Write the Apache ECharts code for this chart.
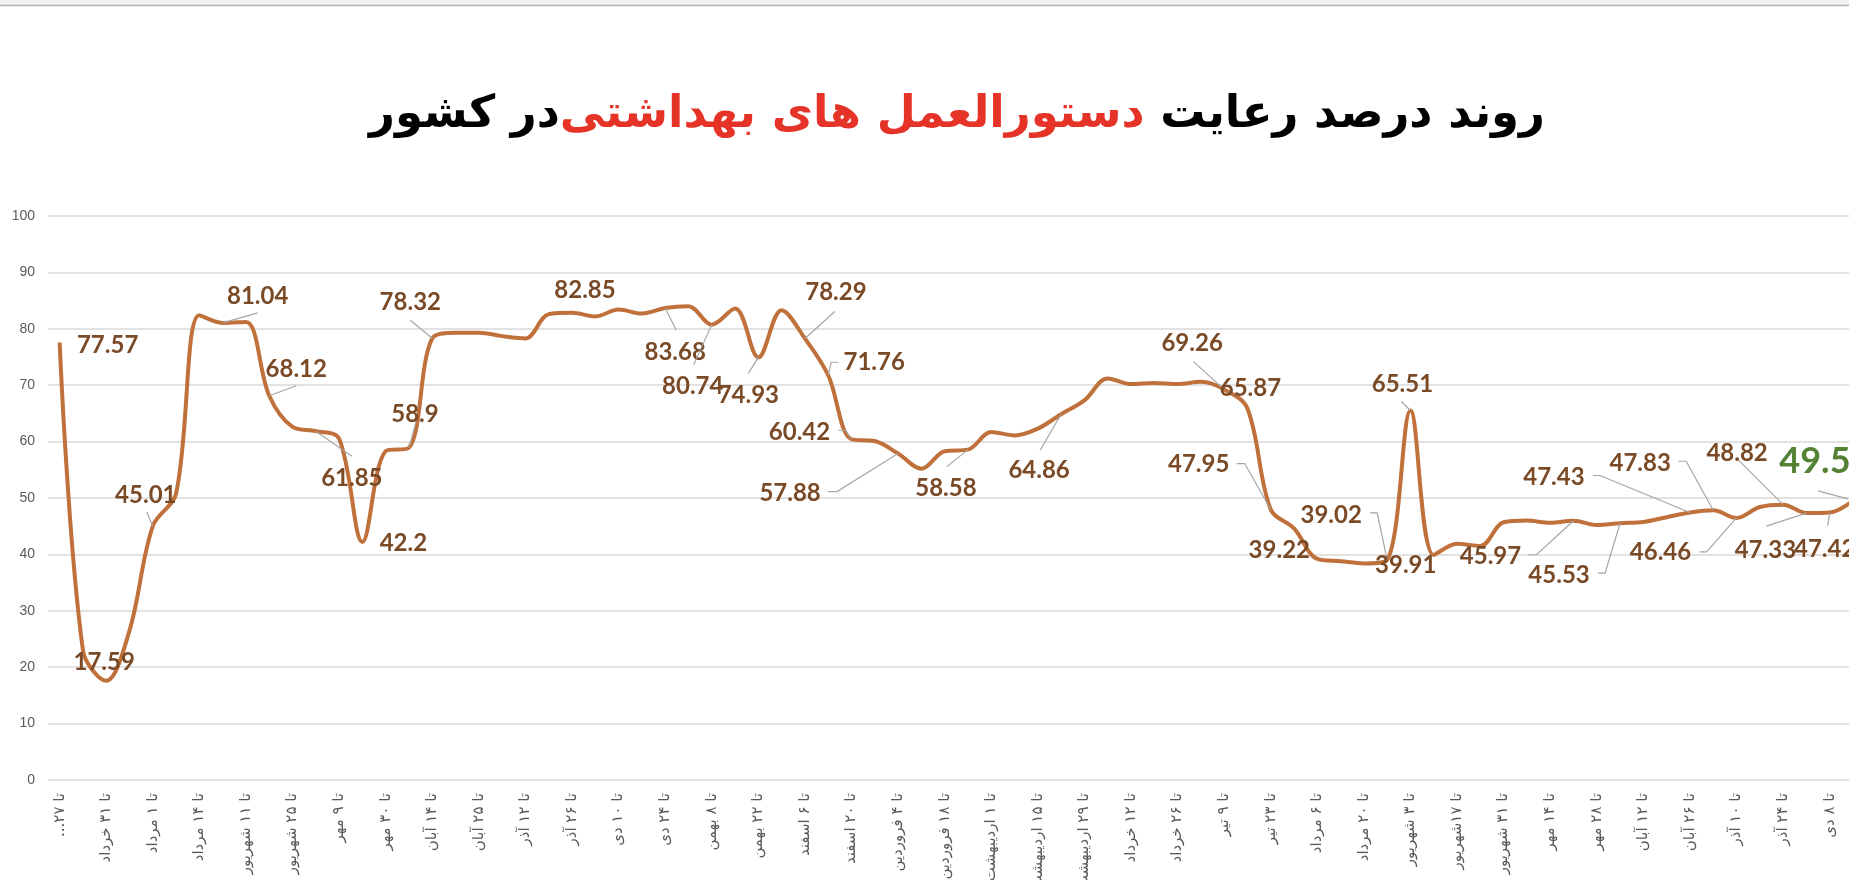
<!DOCTYPE html>
<html><head><meta charset="utf-8">
<script src="https://cdn.jsdelivr.net/npm/echarts@6/dist/echarts.min.js"></script>
<style>html,body{margin:0;padding:0;overflow:hidden;background:#fff;width:1849px;height:880px;position:relative}#c{position:absolute;left:0;top:0;width:1914px;height:880px}</style>
</head><body><div id="c"></div>
<script>
// visible (every other) category labels
const tickLabels = ['تا ۲۷...','تا ۳۱ خرداد','تا ۱ مرداد','تا ۱۴ مرداد','تا ۱۱ شهریور','تا ۲۵ شهریور','تا ۹ مهر','تا ۳۰ مهر','تا ۱۴ آبان','تا ۲۵ آبان','تا ۱۲ آذر','تا ۲۶ آذر','تا ۱۰ دی','تا ۲۴ دی','تا ۸ بهمن','تا ۲۲ بهمن','تا ۶ اسفند','تا ۲۰ اسفند','تا ۴ فروردین','تا ۱۸ فروردین','تا ۱ اردیبهشت','تا ۱۵ اردیبهشت','تا ۲۹ اردیبهشت','تا ۱۲ خرداد','تا ۲۶ خرداد','تا ۹ تیر','تا ۲۳ تیر','تا ۶ مرداد','تا ۲۰ مرداد','تا ۳ شهریور','تا ۱۷شهریور','تا ۳۱ شهریور','تا ۱۴ مهر','تا ۲۸ مهر','تا ۱۲ آبان','تا ۲۶ آبان','تا ۱۰ آذر','تا ۲۴ آذر','تا ۸ دی'];
const values = [77.57, 23, 17.59, 26.5, 45.01, 50.8, 82.4, 81.04, 81.2, 68.12,
  62.6, 61.85, 60.5, 42.2, 58.3, 58.9, 78.32, 79.3, 79.3, 78.7,
  78.3, 82.6, 82.85, 82.2, 83.4, 82.7, 83.68, 84.0, 80.74, 83.6,
  74.93, 83.3, 78.29, 71.76, 60.42, 60.1, 57.88, 55.2, 58.3, 58.58,
  61.7, 61.1, 62.3, 64.86, 67.3, 71.2, 70.2, 70.4, 70.2, 70.6,
  69.26, 65.87, 47.95, 44.6, 39.22, 38.8, 38.4, 39.02, 65.51, 39.91,
  41.9, 41.5, 45.7, 46.0, 45.6, 45.97, 45.2, 45.53, 45.75, 46.6,
  47.43, 47.83, 46.46, 48.4, 48.82, 47.33, 47.42, 49.5];
// indices of points that carry a data label
const labelledPoints = [0,2,4,7,9,11,13,15,16,22,26,28,30,32,33,34,36,39,43,50,51,52,54,57,58,59,65,67,70,71,72,74,75,76,77];
const highlightPoint = 77;
const titleLeft = 'در کشور';
const titleRed = 'دستورالعمل های بهداشتی';
const titleRight = 'روند درصد رعایت';

// label placement (style): [dx, dy, leader points relative to the data point]
const labelPlace = {
  0:[48,3,null], 2:[-2,-19,null], 4:[-7,-31,[[0,0],[-6,-14]]], 7:[35,-27,[[0,0],[35,-10]]],
  9:[27,-27,[[0,0],[27,-10]]], 11:[36,47,[[0,0],[36,25]]], 13:[41,1,null],
  15:[6,-34,[[0,0],[7,-26]]], 16:[-22,-36,[[0,0],[-22,-18]]], 22:[13,-22,null],
  26:[10,44,[[0,0],[11,22]]], 28:[-19,62,[[0,0],[-18,40]]], 30:[-10,38,[[0,0],[-10,16]]],
  32:[31,-46,[[0,0],[30,-27]]], 33:[46,-13,[[0,0],[3,-13],[10,-13]]],
  34:[-52,-7,[[0,0],[-6,-9],[-13,-9]]], 36:[-108,40,[[0,0],[-61,38],[-70,38]]],
  39:[-22,39,[[0,0],[-21,17]]], 43:[-22,56,[[0,0],[-21,36]]], 50:[-32,-46,[[0,0],[-31,-28]]],
  51:[3,-20,null], 52:[-72,-45,[[0,0],[-26,-46],[-34,-46]]], 54:[-38,-9,null],
  57:[-56,-45,[[0,0],[-10,-47],[-17,-47]]], 58:[-8,-26,[[0,0],[-9,-9]]], 59:[-28,10,null],
  65:[-83,36,[[0,0],[-37,34],[-45,34]]], 67:[-61,52,[[0,0],[-15,50],[-22,50]]],
  70:[-136,-35,[[0,0],[-90,-37],[-97,-37]]], 71:[-73,-47,[[0,0],[-27,-49],[-35,-49]]],
  72:[-76,34,[[0,0],[-30,34],[-37,34]]], 74:[-46,-51,[[0,0],[-45,-45]]],
  75:[-41,37,[[0,0],[-40,13]]], 76:[-5,37,[[0,0],[-2,13]]], 77:[-38,-39,[[-5,-2],[-35,-10]]]
};

const categories = [];
for (let i = 0; i < values.length; i++) categories.push(i % 2 === 0 ? tickLabels[i / 2] : '');

const chart = echarts.init(document.getElementById('c'));
chart.setOption({
  animation: false,
  backgroundColor: '#fff',
  title: {
    left: 'center', top: 88,
    text: '{k|' + titleLeft + '}{r|' + titleRed + '}{k| }{k|' + titleRight + '}',
    textStyle: {
      rich: {
        k: {color: '#000', fontSize: 45, fontWeight: 'bold', fontFamily: 'DejaVu Sans'},
        r: {color: '#e63328', fontSize: 45, fontWeight: 'bold', fontFamily: 'DejaVu Sans'}
      }
    }
  },
  graphic: [
    {type: 'rect', left: 0, top: 0, shape: {width: 1914, height: 5}, style: {fill: '#f2f2f2'}},
    {type: 'line', shape: {x1: 0, y1: 5.5, x2: 1914, y2: 5.5}, style: {stroke: '#b5b5b5', lineWidth: 1.5}}
  ],
  grid: {left: 48, top: 216, width: 1816.6, height: 564, outerBoundsMode: 'none', containLabel: false},
  xAxis: {
    type: 'category', data: categories, boundaryGap: true,
    axisLine: {show: false}, axisTick: {show: false},
    axisLabel: {
      interval: 1, rotate: 90, margin: 13, color: '#595959', fontSize: 15, fontFamily: 'DejaVu Sans',
      formatter: function (s) { return s ? '\u202B' + s + '\u202C' : ''; }
    }
  },
  yAxis: {
    type: 'value', min: 0, max: 100, interval: 10,
    axisLine: {show: false}, axisTick: {show: false},
    axisLabel: {color: '#595959', fontSize: 14, margin: 13, fontFamily: 'Liberation Sans'},
    splitLine: {lineStyle: {color: '#d9d9d9', width: 1.5}}
  },
  series: [
    {
      type: 'line', data: values, smooth: 0.35, showSymbol: false,
      lineStyle: {color: '#c0703a', width: 4}, z: 2
    },
    {
      type: 'custom', clip: false, z: 5,
      data: labelledPoints.map(i => [i, values[i]]),
      encode: {x: 0, y: 1},
      renderItem: function (params, api) {
        const idx = api.value(0), v = api.value(1);
        const p = api.coord([idx, v]);
        const cfg = labelPlace[idx];
        const big = idx === highlightPoint;
        const children = [];
        if (cfg[2]) {
          children.push({
            type: 'polyline',
            shape: {points: cfg[2].map(d => [p[0] + d[0], p[1] + d[1]])},
            style: {stroke: '#a6a6a6', lineWidth: 1.2, fill: null}
          });
        }
        children.push({
          type: 'text', x: p[0] + cfg[0], y: p[1] + cfg[1],
          style: {
            text: String(v), align: 'center', verticalAlign: 'middle',
            fill: big ? '#548235' : '#7a4a26',
            font: 'bold ' + (big ? 36 : 24) + 'px Lato'
          }
        });
        return {type: 'group', children: children};
      }
    }
  ]
});
</script></body></html>
